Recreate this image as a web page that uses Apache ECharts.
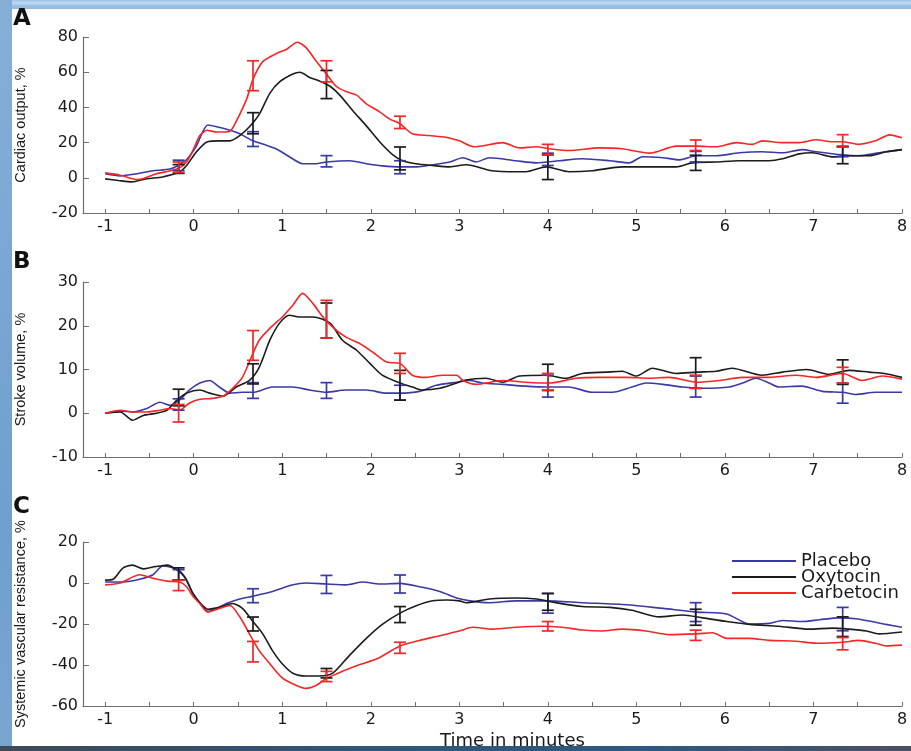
<!DOCTYPE html>
<html>
<head>
<meta charset="utf-8">
<script src="https://cdn.jsdelivr.net/npm/echarts@6/dist/echarts.min.js"></script>
<style>
  html, body { margin:0; padding:0; width:911px; height:751px; overflow:hidden; background:#93badf; }
  #topband { position:absolute; left:0; top:0; width:911px; height:9px; background:linear-gradient(#9cc3e6,#c2dbf1 35%,#9cc3e6 60%,#8fb7dc); }
  #leftband { position:absolute; left:0; top:0; width:12px; height:751px; background:linear-gradient(#86afd8,#6f9fcd 70%,#7aa5cf); }
  #paper { position:absolute; left:12px; top:9px; width:899px; height:737px; background:#ffffff; }
  #bottom { position:absolute; left:0; top:746px; width:911px; height:5px; background:linear-gradient(90deg,#3d4a58,#2f5679 40%,#2c5a82 70%,#4a4f63); z-index:5; }
  #chart { position:absolute; left:0; top:0; width:911px; height:751px; z-index:2; }
</style>
</head>
<body>
<div id="topband"></div>
<div id="leftband"></div>
<div id="paper"></div>
<div id="chart"></div>
<div id="bottom"></div>
<script>
// ---------- tick labels ----------
const timeLabels = [-1, 0, 1, 2, 3, 4, 5, 6, 7, 8];
const timeTicks = [-1, -0.5, 0, 0.5, 1, 1.5, 2, 2.5, 3, 3.5, 4, 4.5, 5, 5.5, 6, 6.5, 7, 7.5, 8];
const seriesNames = ['Placebo', 'Oxytocin', 'Carbetocin'];
const errX = [-0.17, 0.67, 1.5, 2.33, 4, 5.67, 7.33];

// ---------- Panel A : Cardiac output, % ----------
const aCarbX = [-1, -0.83, -0.63, -0.42, -0.19, -0.08, 0, 0.07, 0.15, 0.26, 0.41, 0.48, 0.6, 0.67, 0.78, 0.93, 1.05, 1.17, 1.27, 1.38, 1.5, 1.61, 1.72, 1.84, 1.95, 2.1, 2.21, 2.33, 2.47, 2.66, 2.85, 3.0, 3.17, 3.49, 3.68, 3.87, 4.02, 4.24, 4.58, 4.84, 5.15, 5.45, 5.68, 5.9, 6.13, 6.31, 6.42, 6.65, 6.84, 7.03, 7.21, 7.33, 7.51, 7.7, 7.86, 8.0];
const aCarbY = [2.8, 1.5, -1, 2.3, 5, 9, 16.5, 24, 27, 26, 26.5, 32, 45, 56, 66, 70.5, 73, 77, 74, 66.5, 59, 52, 49, 47, 42, 37.5, 33.5, 30.7, 25, 24, 23, 21, 17.6, 20, 17, 17.6, 16.5, 15.5, 17, 16.5, 14, 18, 18, 17.6, 20, 19, 21, 20, 20, 21.6, 20.5, 20.5, 19, 21, 24.4, 22.7];
const aOxyX = [-1, -0.85, -0.7, -0.53, -0.35, -0.16, -0.08, 0.03, 0.15, 0.29, 0.41, 0.52, 0.63, 0.74, 0.86, 0.97, 1.12, 1.2, 1.31, 1.42, 1.54, 1.65, 1.8, 1.95, 2.1, 2.25, 2.36, 2.51, 2.7, 2.89, 3.08, 3.37, 3.75, 3.98, 4.24, 4.5, 4.84, 5.15, 5.45, 5.63, 5.9, 6.16, 6.5, 6.65, 6.84, 6.99, 7.21, 7.4, 7.63, 7.82, 8];
const aOxyY = [-0.6, -1.5, -2.3, -0.5, 0.5, 3.4, 7, 14.7, 20.4, 21, 21, 24, 29, 36, 48, 54.5, 59, 60, 57, 55, 52, 47, 38, 29.5, 20.5, 13, 9.7, 8, 7, 6.2, 7.4, 4, 3.4, 6.2, 3.4, 4, 6.2, 6.2, 6.2, 8.5, 9, 9.7, 9.7, 10.8, 13.6, 14.2, 11.9, 12.5, 12.5, 14.8, 16];
const aPlaX = [-1, -0.83, -0.64, -0.46, -0.27, -0.14, -0.07, 0.03, 0.1, 0.16, 0.26, 0.41, 0.52, 0.67, 0.82, 0.93, 1.08, 1.23, 1.38, 1.5, 1.76, 1.95, 2.13, 2.33, 2.52, 2.7, 2.89, 3.04, 3.19, 3.34, 3.64, 3.87, 4.13, 4.39, 4.7, 4.92, 5.07, 5.3, 5.49, 5.68, 5.9, 6.16, 6.42, 6.65, 6.87, 7.03, 7.33, 7.51, 7.74, 8];
const aPlaY = [2.3, 1.1, 2.3, 4, 5, 8, 10.8, 18, 26, 30, 29, 27, 25, 21, 18.5, 16.5, 12, 8, 8, 9, 9.7, 8, 6.8, 6.2, 6.2, 7.4, 9, 11.4, 9, 11.4, 9.7, 8.5, 9.7, 10.8, 9.7, 8.5, 12, 11.4, 10.2, 12.5, 12.5, 14.2, 14.8, 14.2, 16, 14.8, 13, 12.5, 14.2, 16];
const aCarbErrMean = [6, 58, 60.5, 31.5, 16, 18.5, 21];
const aCarbErr     = [3, 8.5, 6, 3.5, 3, 3, 3.5];
const aOxyErrMean  = [5, 31, 53, 11, 6, 8.5, 12.8];
const aOxyErr      = [2.5, 6, 8, 6.5, 7, 4.3, 4.8];
const aPlaErrMean  = [7, 22, 9.4, 6, 10.5, 12, 15];
const aPlaErr      = [3, 4.2, 3.2, 3.7, 3.5, 3, 3];

// ---------- Panel B : Stroke volume, % ----------
const bCarbX = [-1, -0.83, -0.69, -0.53, -0.38, -0.27, -0.16, -0.05, 0.07, 0.21, 0.33, 0.44, 0.55, 0.67, 0.74, 0.86, 1.0, 1.12, 1.23, 1.35, 1.46, 1.57, 1.72, 1.87, 2.02, 2.18, 2.33, 2.47, 2.63, 2.81, 2.97, 3.04, 3.19, 3.49, 3.75, 4.02, 4.32, 4.58, 4.89, 5.15, 5.37, 5.68, 5.94, 6.2, 6.5, 6.8, 7.03, 7.33, 7.55, 7.78, 8];
const bCarbY = [0, 0.7, 0.3, 0.3, 0.7, 1.1, 0.7, 2.3, 3.2, 3.4, 3.9, 5.7, 8.2, 13.7, 16.7, 19.4, 22, 24.7, 27.4, 25, 22, 19.7, 17.4, 16, 14, 11.7, 11.4, 8.7, 8.2, 8.7, 8.7, 7.5, 6.6, 7.5, 7.1, 6.9, 8, 8.2, 8.2, 8, 8.2, 7.1, 7.5, 8.2, 8.2, 8.7, 8.2, 9.1, 7.5, 8.5, 7.8];
const bOxyX = [-1, -0.83, -0.69, -0.57, -0.42, -0.3, -0.19, -0.08, 0.07, 0.18, 0.33, 0.48, 0.63, 0.74, 0.86, 0.97, 1.08, 1.19, 1.35, 1.54, 1.68, 1.84, 1.99, 2.13, 2.33, 2.47, 2.58, 2.78, 2.97, 3.04, 3.3, 3.49, 3.68, 3.98, 4.2, 4.39, 4.66, 4.84, 5.0, 5.18, 5.45, 5.68, 5.9, 6.08, 6.42, 6.65, 6.92, 7.18, 7.4, 7.63, 7.8, 8];
const bOxyY = [0, 0.3, -1.6, -0.5, 0, 0.7, 3, 4.6, 5.3, 4.6, 3.9, 6, 7.5, 10.5, 16.7, 20.6, 22.4, 22, 22, 20.6, 16.7, 14.4, 11.4, 8.7, 6.9, 6, 5.3, 5.7, 6.9, 7.5, 8, 7.1, 8.5, 8.7, 8, 9.1, 9.4, 9.6, 8.5, 10.3, 9.1, 9.4, 9.6, 10.3, 8.7, 9.4, 10, 8.9, 9.8, 9.4, 9.1, 8.2];
const bPlaX = [-1, -0.83, -0.69, -0.53, -0.38, -0.27, -0.16, -0.05, 0.07, 0.18, 0.29, 0.41, 0.55, 0.67, 0.89, 1.12, 1.31, 1.5, 1.72, 1.95, 2.18, 2.33, 2.55, 2.74, 2.97, 3.12, 3.26, 3.49, 3.75, 3.98, 4.24, 4.5, 4.73, 4.95, 5.11, 5.3, 5.52, 5.75, 6.05, 6.2, 6.35, 6.5, 6.61, 6.87, 7.1, 7.33, 7.48, 7.7, 8];
const bPlaY = [0, 0.5, 0.3, 1.1, 2.5, 1.8, 3, 5.3, 6.9, 7.5, 6, 4.6, 4.8, 4.8, 6, 6, 5.3, 4.8, 5.3, 5.3, 4.6, 4.6, 5, 6.4, 7.1, 7.5, 6.9, 6.6, 6.2, 6, 6, 4.8, 4.8, 6, 6.9, 6.6, 6, 5.7, 6, 6.9, 8, 6.9, 6, 6.2, 5, 4.8, 4.3, 4.8, 4.8];
const bCarbErrMean = [0, 15.5, 21.5, 11.4, 7.2, 7.2, 8.7];
const bCarbErr     = [2, 3.4, 4.3, 2.3, 1.9, 1.5, 1.8];
const bOxyErrMean  = [3.6, 9, 21.2, 6.4, 8.2, 9.2, 9.4];
const bOxyErr      = [1.9, 2.3, 4, 3.4, 3, 3.5, 2.8];
const bPlaErrMean  = [2, 5.2, 5.2, 4.7, 6.2, 6.1, 4.6];
const bPlaErr      = [1.3, 1.8, 1.8, 1.7, 2.5, 2.4, 2.3];

// ---------- Panel C : Systemic vascular resistance, % ----------
const cCarbX = [-1, -0.83, -0.61, -0.46, -0.3, -0.16, -0.08, -0.01, 0.07, 0.16, 0.29, 0.41, 0.52, 0.63, 0.74, 0.86, 1.0, 1.16, 1.27, 1.38, 1.51, 1.68, 1.87, 2.07, 2.33, 2.55, 2.78, 3.0, 3.15, 3.38, 3.64, 3.94, 4.16, 4.39, 4.61, 4.84, 5.11, 5.37, 5.68, 5.86, 6.02, 6.28, 6.5, 6.8, 7.03, 7.33, 7.51, 7.7, 7.82, 8];
const cCarbY = [-0.9, 0, 4, 2.3, 0.9, 0.5, -1.8, -6.4, -10.1, -14.2, -12.4, -11, -16.5, -24.8, -33, -39.4, -46.3, -50, -51.4, -50, -46.3, -43.1, -39.9, -37, -30.7, -28, -25.7, -23.4, -21.6, -22.5, -21.6, -21.1, -21.6, -22.9, -23.4, -22.5, -23.4, -25.2, -24.8, -24.3, -27, -27, -28, -28.4, -29.4, -28.9, -28, -29.4, -30.7, -30.3];
const cOxyX = [-1, -0.91, -0.8, -0.69, -0.57, -0.46, -0.38, -0.3, -0.19, -0.1, -0.01, 0.07, 0.16, 0.29, 0.44, 0.55, 0.67, 0.78, 0.89, 1.0, 1.12, 1.27, 1.42, 1.57, 1.76, 1.95, 2.13, 2.33, 2.52, 2.7, 2.86, 3.0, 3.08, 3.34, 3.64, 3.87, 4.09, 4.39, 4.7, 4.95, 5.26, 5.52, 5.75, 6.02, 6.28, 6.61, 6.95, 7.21, 7.4, 7.6, 7.74, 8];
const cOxyY = [1.4, 1.8, 7.3, 8.7, 6.9, 7.8, 8.3, 8.7, 6.4, 2.8, -5, -9.6, -12.8, -11.9, -10, -12.4, -18.8, -24.8, -33, -39.4, -44, -45.4, -45.4, -44, -35.3, -27, -20.2, -14.7, -11, -8.7, -8.3, -8.7, -9.6, -7.8, -7.3, -7.8, -9.6, -11.5, -11.9, -13.3, -16.5, -15.6, -17, -18.8, -20.2, -21.1, -22.5, -22, -22.5, -23.4, -24.8, -23.9];
const cPlaX = [-1, -0.8, -0.61, -0.46, -0.35, -0.27, -0.16, -0.08, -0.01, 0.07, 0.16, 0.26, 0.37, 0.52, 0.67, 0.89, 1.12, 1.27, 1.5, 1.72, 1.91, 2.1, 2.33, 2.55, 2.78, 2.97, 3.12, 3.34, 3.64, 3.98, 4.39, 4.89, 5.3, 5.68, 6.02, 6.28, 6.5, 6.65, 6.87, 7.07, 7.29, 7.48, 7.66, 7.82, 8];
const cPlaY = [0.5, 0.5, 1.8, 4, 8.3, 7.8, 6, 1.4, -5, -9.6, -13.8, -12.4, -10, -7.8, -6.4, -4.1, -0.9, 0, -0.5, -0.9, 0.5, -0.5, -0.2, -1.8, -4.1, -7.3, -8.7, -9.6, -8.7, -8.7, -9.6, -10.6, -12.4, -14.2, -15.1, -20, -19.7, -18.3, -18.8, -17.9, -17, -17.4, -18.8, -20.2, -21.6];
const cCarbErrMean = [-1.2, -33.5, -45.6, -31.6, -21.1, -25.5, -29.6];
const cCarbErr     = [2.5, 5, 2.5, 2.7, 2.3, 2.5, 3];
const cOxyErrMean  = [4.4, -20, -44, -15.4, -9.2, -16.7, -21.3];
const cOxyErr      = [3, 3.4, 2.3, 3.9, 4.1, 3.9, 4.8];
const cPlaErrMean  = [4, -6.2, -0.7, -0.5, -9.9, -14.2, -17.6];
const cPlaErr      = [2.5, 3.4, 4.4, 4.4, 4.8, 4.6, 5.7];

// ---------- styling ----------
const colors = { Placebo: '#3a3aa6', Oxytocin: '#1c1c1c', Carbetocin: '#f42626' };
const tickFont = 'DejaVu Sans';

const panels = [
  { letter: 'A', name: 'Cardiac output, %', min: -20, max: 80, interval: 20, top: 37, height: 176,
    lines: [[aPlaX, aPlaY], [aOxyX, aOxyY], [aCarbX, aCarbY]],
    errs: [[aPlaErrMean, aPlaErr], [aOxyErrMean, aOxyErr], [aCarbErrMean, aCarbErr]], letterTop: 8 },
  { letter: 'B', name: 'Stroke volume, %', min: -10, max: 30, interval: 10, top: 282, height: 175,
    lines: [[bPlaX, bPlaY], [bOxyX, bOxyY], [bCarbX, bCarbY]],
    errs: [[bPlaErrMean, bPlaErr], [bOxyErrMean, bOxyErr], [bCarbErrMean, bCarbErr]], letterTop: 251 },
  { letter: 'C', name: 'Systemic vascular resistance, %', min: -60, max: 20, interval: 20, top: 542, height: 175,
    lines: [[cPlaX, cPlaY], [cOxyX, cOxyY], [cCarbX, cCarbY]],
    errs: [[cPlaErrMean, cPlaErr], [cOxyErrMean, cOxyErr], [cCarbErrMean, cCarbErr]], letterTop: 496 }
];

const grids = [], xAxes = [], yAxes = [], series = [], graphics = [];
panels.forEach((p, i) => {
  grids.push({ left: 83, right: 9, top: p.top, height: p.height });
  xAxes.push({
    type: 'value', gridIndex: i, min: -1.25, max: 8,
    name: i === 2 ? 'Time in minutes' : '',
    nameLocation: 'middle', nameGap: 26,
    nameTextStyle: { fontFamily: tickFont, fontSize: 18, color: '#1a1a1a', padding: [0, 0, 0, 40] },
    axisLine: { onZero: false, lineStyle: { color: '#6e6e6e', width: 1.2 } },
    axisTick: { inside: true, length: 4, customValues: timeTicks, lineStyle: { color: '#6e6e6e' } },
    axisLabel: { customValues: timeLabels, fontFamily: tickFont, fontSize: 16, color: '#1a1a1a', margin: 6 },
    splitLine: { show: false }
  });
  yAxes.push({
    type: 'value', gridIndex: i, min: p.min, max: p.max, interval: p.interval,
    name: p.name, nameLocation: 'middle', nameGap: 55,
    nameTextStyle: { fontFamily: 'Liberation Sans', fontSize: 14.5, color: '#1a1a1a' },
    axisLine: { show: true, onZero: false, lineStyle: { color: '#6e6e6e', width: 1.2 } },
    axisTick: { show: true, inside: true, length: 6, lineStyle: { color: '#6e6e6e' } },
    axisLabel: { fontFamily: tickFont, fontSize: 16, color: '#1a1a1a', margin: 5 },
    splitLine: { show: false }
  });
  seriesNames.forEach((nm, k) => {
    const xs = p.lines[k][0], ys = p.lines[k][1];
    series.push({
      type: 'line', name: nm, xAxisIndex: i, yAxisIndex: i,
      data: xs.map((x, j) => [x, ys[j]]),
      showSymbol: false, smooth: 0.25, z: 2 + k,
      lineStyle: { color: colors[nm], width: 1.6 }, itemStyle: { color: colors[nm] },
      emphasis: { disabled: true }
    });
    const mean = p.errs[k][0], err = p.errs[k][1];
    series.push({
      type: 'custom', xAxisIndex: i, yAxisIndex: i, z: 5 + k,
      data: errX.map((x, j) => [x, mean[j], err[j]]),
      renderItem: (params, api) => {
        const x = api.value(0), m = api.value(1), e = api.value(2);
        const t = api.coord([x, m + e]), b = api.coord([x, m - e]);
        const w = 6;
        const st = { stroke: colors[nm], lineWidth: 1.7 };
        return { type: 'group', children: [
          { type: 'line', shape: { x1: t[0], y1: t[1], x2: b[0], y2: b[1] }, style: st },
          { type: 'line', shape: { x1: t[0] - w, y1: t[1], x2: t[0] + w, y2: t[1] }, style: st },
          { type: 'line', shape: { x1: b[0] - w, y1: b[1], x2: b[0] + w, y2: b[1] }, style: st }
        ] };
      }
    });
  });
  graphics.push({ type: 'text', left: 13, top: p.letterTop,
    style: { text: p.letter, font: 'bold 23px "DejaVu Sans"', fill: '#111' } });
});

const chart = echarts.init(document.getElementById('chart'), null, { renderer: 'canvas' });
chart.setOption({
  backgroundColor: 'transparent',
  animation: false,
  grid: grids, xAxis: xAxes, yAxis: yAxes, series: series,
  graphic: graphics,
  legend: {
    data: seriesNames, orient: 'vertical', left: 727, top: 547,
    icon: 'rect', itemWidth: 64, itemHeight: 2, itemGap: -2,
    textStyle: { fontFamily: tickFont, fontSize: 18, color: '#1a1a1a' },
    selectedMode: false
  }
});
</script>
</body>
</html>
